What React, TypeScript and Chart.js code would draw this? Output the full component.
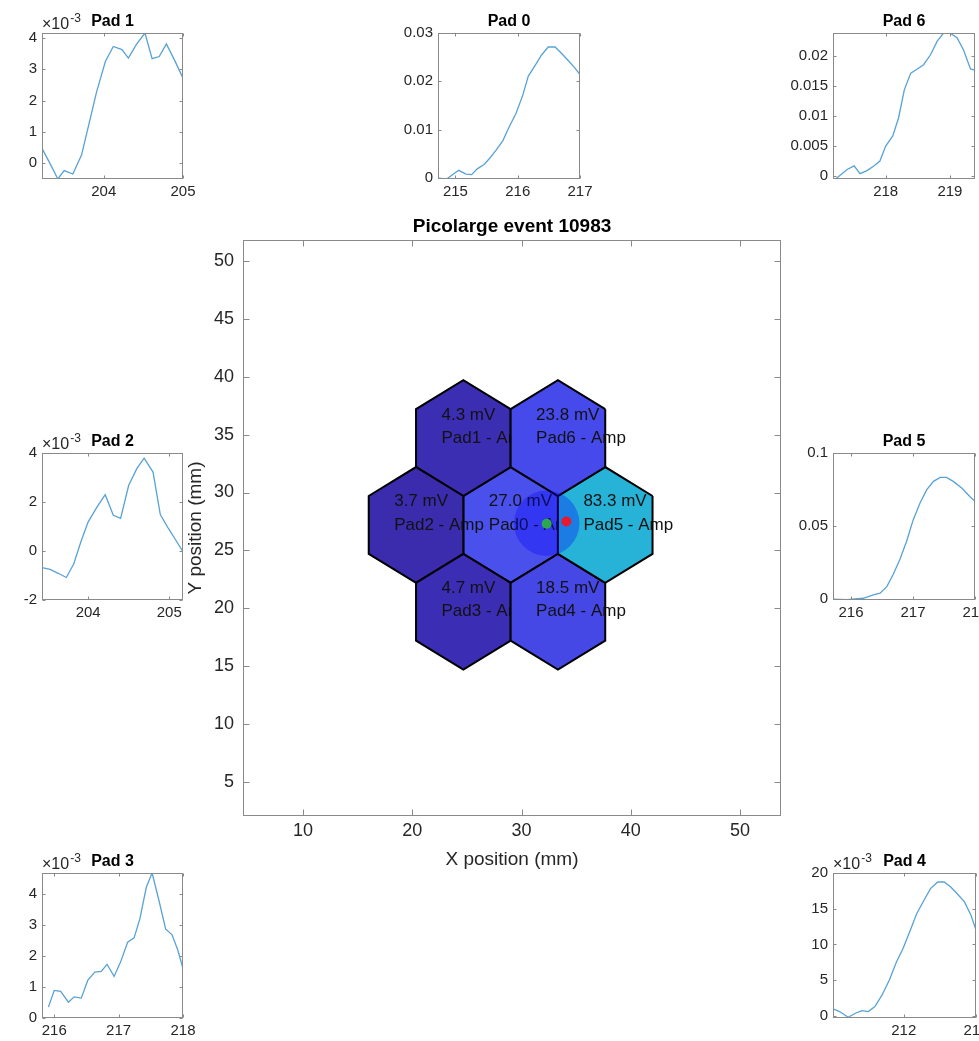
import React, { useEffect, useRef } from "react";
import { Chart, registerables } from "chart.js";

Chart.register(...registerables);

const FONT = '"Liberation Sans", Arial, Helvetica, sans-serif';
const AXIS_COLOR = "#8a8a8a";
const TEXT_COLOR = "#262626";
const TRACE_COLOR = "#58a2d6";

// ---------------- Main map ----------------
const mainTitle = "Picolarge event 10983";
const mainXLabel = "X position (mm)";
const mainYLabel = "Y position (mm)";
const mainXTicks = [10, 20, 30, 40, 50];
const mainYTicks = [5, 10, 15, 20, 25, 30, 35, 40, 45, 50];
const mainXRange = [4.5, 53.75];
const mainYRange = [2.06, 51.81];

const padNames = ["Pad0", "Pad1", "Pad2", "Pad3", "Pad4", "Pad5", "Pad6"];
const padCenterX = [29.0, 24.67, 20.34, 24.67, 33.33, 37.66, 33.33];
const padCenterY = [27.2, 34.7, 27.2, 19.7, 19.7, 27.2, 34.7];
const padAmplitudeMv = [27.0, 4.3, 3.7, 4.7, 18.5, 83.3, 23.8];
const padFillColors = ["#4a50ec", "#3c2eb2", "#3a2cad", "#3c2eb4", "#4648e6", "#27b2d8", "#474aea"];
const HEX_SIDE = 5;

const circleCenter = [32.3, 27.35];
const circleRadiusMm = 3.0;
const greenPoint = [32.3, 27.3];
const redPoint = [34.1, 27.5];

// ---------------- Pad traces ----------------
const pad1Time = [203.22, 203.32, 203.42, 203.5, 203.61, 203.72, 203.81, 203.91, 204.02, 204.12, 204.23, 204.31, 204.41, 204.52, 204.61, 204.7, 204.79, 204.89, 205.0];
const pad1Amp = [0.48, 0.0, -0.5, -0.23, -0.34, 0.27, 1.23, 2.29, 3.25, 3.73, 3.63, 3.36, 3.79, 4.16, 3.34, 3.41, 3.81, 3.31, 2.72];

const pad0Time = [214.72, 214.86, 215.05, 215.17, 215.26, 215.35, 215.46, 215.55, 215.65, 215.76, 215.86, 215.97, 216.08, 216.17, 216.28, 216.38, 216.49, 216.6, 216.71, 216.81, 216.91, 217.0];
const pad0Amp = [0.0, -0.0002, 0.0016, 0.0008, 0.0007, 0.0019, 0.0028, 0.0041, 0.0057, 0.0077, 0.0105, 0.0133, 0.0171, 0.0211, 0.0233, 0.0254, 0.0271, 0.0271, 0.0257, 0.0243, 0.0229, 0.0214];

const pad6Time = [217.22, 217.4, 217.51, 217.6, 217.71, 217.82, 217.91, 218.0, 218.11, 218.2, 218.29, 218.39, 218.48, 218.59, 218.7, 218.8, 218.9, 219.0, 219.11, 219.21, 219.32, 219.39];
const pad6Amp = [-0.0005, 0.0011, 0.0017, 0.0004, 0.0009, 0.0017, 0.0025, 0.005, 0.0067, 0.0097, 0.0144, 0.0172, 0.0178, 0.0186, 0.0203, 0.0225, 0.0239, 0.0239, 0.0231, 0.0211, 0.0179, 0.0177];

const pad2Time = [203.43, 203.53, 203.63, 203.73, 203.82, 203.91, 204.0, 204.11, 204.21, 204.31, 204.4, 204.5, 204.6, 204.69, 204.8, 204.89, 204.99, 205.08, 205.17];
const pad2Amp = [-0.68, -0.75, -0.91, -1.08, -0.54, 0.38, 1.19, 1.8, 2.3, 1.46, 1.33, 2.68, 3.36, 3.79, 3.22, 1.49, 0.92, 0.45, -0.03];

const pad5Time = [215.71, 215.93, 216.2, 216.36, 216.47, 216.58, 216.68, 216.79, 216.9, 217.0, 217.11, 217.22, 217.33, 217.44, 217.54, 217.65, 217.79, 217.92, 218.0];
const pad5Amp = [0.0, -0.0003, 0.0007, 0.003, 0.0042, 0.0088, 0.0169, 0.0273, 0.04, 0.0539, 0.0655, 0.0748, 0.0806, 0.0833, 0.0833, 0.0806, 0.0759, 0.0701, 0.067];

const pad3Time = [215.91, 216.0, 216.1, 216.22, 216.31, 216.42, 216.52, 216.63, 216.73, 216.82, 216.93, 217.03, 217.14, 217.24, 217.33, 217.43, 217.52, 217.62, 217.73, 217.83, 217.92, 218.0];
const pad3Amp = [0.35, 0.89, 0.86, 0.51, 0.68, 0.64, 1.21, 1.48, 1.5, 1.73, 1.34, 1.8, 2.44, 2.58, 3.19, 4.21, 4.67, 3.84, 2.87, 2.68, 2.18, 1.59];

const pad4Time = [211.02, 211.11, 211.23, 211.33, 211.42, 211.51, 211.6, 211.7, 211.8, 211.9, 211.99, 212.09, 212.18, 212.28, 212.37, 212.47, 212.56, 212.65, 212.74, 212.84, 212.93, 213.0];
const pad4Amp = [0.98, 0.6, -0.19, 0.37, 0.74, 0.6, 1.3, 2.93, 5.02, 7.58, 9.44, 12.0, 14.33, 16.19, 17.81, 18.74, 18.74, 18.05, 17.1, 15.95, 14.1, 12.0];

type Box = { l: number; t: number; r: number; b: number };
type Margin = { l: number; t: number; r: number; b: number };

type SubCfg = {
  title: string;
  box: Box;
  time: number[];
  amp: number[];
  xRange: number[];
  yRange: number[];
  xTicks: number[];
  yTicks: number[];
  yTickLabels: string[];
  exponent?: string;
};

const subplots: SubCfg[] = [
  { title: "Pad 1", box: { l: 42, t: 33, r: 183, b: 179 }, time: pad1Time, amp: pad1Amp, xRange: [203.22, 205.0], yRange: [-0.5, 4.16], xTicks: [204, 205], yTicks: [0, 1, 2, 3, 4], yTickLabels: ["0", "1", "2", "3", "4"], exponent: "-3" },
  { title: "Pad 0", box: { l: 438, t: 33, r: 580, b: 179 }, time: pad0Time, amp: pad0Amp, xRange: [214.72, 217.0], yRange: [-0.0002, 0.03], xTicks: [215, 216, 217], yTicks: [0, 0.01, 0.02, 0.03], yTickLabels: ["0", "0.01", "0.02", "0.03"] },
  { title: "Pad 6", box: { l: 833, t: 33, r: 975, b: 179 }, time: pad6Time, amp: pad6Amp, xRange: [217.18, 219.39], yRange: [-0.0005, 0.0239], xTicks: [218, 219], yTicks: [0, 0.005, 0.01, 0.015, 0.02], yTickLabels: ["0", "0.005", "0.01", "0.015", "0.02"] },
  { title: "Pad 2", box: { l: 42, t: 453, r: 183, b: 600 }, time: pad2Time, amp: pad2Amp, xRange: [203.43, 205.17], yRange: [-2, 4], xTicks: [204, 205], yTicks: [-2, 0, 2, 4], yTickLabels: ["-2", "0", "2", "4"], exponent: "-3" },
  { title: "Pad 5", box: { l: 833, t: 453, r: 975, b: 600 }, time: pad5Time, amp: pad5Amp, xRange: [215.71, 218.0], yRange: [-0.0005, 0.1], xTicks: [216, 217, 218], yTicks: [0, 0.05, 0.1], yTickLabels: ["0", "0.05", "0.1"] },
  { title: "Pad 3", box: { l: 42, t: 873, r: 183, b: 1018 }, time: pad3Time, amp: pad3Amp, xRange: [215.81, 218.0], yRange: [0, 4.67], xTicks: [216, 217, 218], yTicks: [0, 1, 2, 3, 4], yTickLabels: ["0", "1", "2", "3", "4"], exponent: "-3" },
  { title: "Pad 4", box: { l: 833, t: 873, r: 976, b: 1018 }, time: pad4Time, amp: pad4Amp, xRange: [211.02, 213.0], yRange: [-0.3, 20], xTicks: [212, 213], yTicks: [0, 5, 10, 15, 20], yTickLabels: ["0", "5", "10", "15", "20"], exponent: "-3" },
];

const MAIN_BOX: Box = { l: 243, t: 240, r: 781, b: 816 };

type FrameOpts = {
  xTicks: number[];
  xTickLabels: string[];
  yTicks: number[];
  yTickLabels: string[];
  tickLen: number;
  tickSize: number;
  xLabelGap: number;
  yLabelGap: number;
  title: string;
  titleSize: number;
  titleGap: number;
  exponent?: string;
  xLabel?: string;
  yLabel?: string;
  labelSize?: number;
};

function drawFrame(chart: any, o: FrameOpts) {
  const { ctx, chartArea: a } = chart;
  const xs = chart.scales.x;
  const ys = chart.scales.y;
  ctx.save();
  ctx.strokeStyle = AXIS_COLOR;
  ctx.lineWidth = 1;
  const L = Math.round(a.left) + 0.5;
  const R = Math.round(a.right) - 0.5;
  const T = Math.round(a.top) + 0.5;
  const B = Math.round(a.bottom) - 0.5;
  ctx.strokeRect(L, T, R - L, B - T);
  ctx.beginPath();
  for (const v of o.xTicks) {
    const p = Math.round(xs.getPixelForValue(v)) + 0.5;
    if (p < L - 1 || p > R + 1) continue;
    ctx.moveTo(p, B);
    ctx.lineTo(p, B - o.tickLen);
    ctx.moveTo(p, T);
    ctx.lineTo(p, T + o.tickLen);
  }
  for (const v of o.yTicks) {
    const p = Math.round(ys.getPixelForValue(v)) + 0.5;
    if (p < T - 1 || p > B + 1) continue;
    ctx.moveTo(L, p);
    ctx.lineTo(L + o.tickLen, p);
    ctx.moveTo(R, p);
    ctx.lineTo(R - o.tickLen, p);
  }
  ctx.stroke();

  ctx.fillStyle = TEXT_COLOR;
  ctx.font = `${o.tickSize}px ${FONT}`;
  ctx.textAlign = "center";
  ctx.textBaseline = "top";
  o.xTicks.forEach((v, i) => ctx.fillText(o.xTickLabels[i], xs.getPixelForValue(v), a.bottom + o.xLabelGap));
  ctx.textAlign = "right";
  ctx.textBaseline = "middle";
  o.yTicks.forEach((v, i) => ctx.fillText(o.yTickLabels[i], a.left - o.yLabelGap, ys.getPixelForValue(v)));

  ctx.fillStyle = "#000";
  ctx.font = `bold ${o.titleSize}px ${FONT}`;
  ctx.textAlign = "center";
  ctx.textBaseline = "middle";
  ctx.fillText(o.title, (a.left + a.right) / 2, a.top - o.titleGap);

  if (o.exponent) {
    ctx.fillStyle = TEXT_COLOR;
    ctx.font = `16px ${FONT}`;
    ctx.textAlign = "left";
    ctx.textBaseline = "alphabetic";
    const base = a.top - 4;
    ctx.fillText("\u00d710", a.left, base);
    const w = ctx.measureText("\u00d710").width;
    ctx.font = `12px ${FONT}`;
    ctx.fillText(o.exponent, a.left + w + 1, base - 7);
  }

  if (o.xLabel) {
    ctx.fillStyle = TEXT_COLOR;
    ctx.font = `${o.labelSize}px ${FONT}`;
    ctx.textAlign = "center";
    ctx.textBaseline = "middle";
    ctx.fillText(o.xLabel, (a.left + a.right) / 2, a.bottom + 44);
  }
  if (o.yLabel) {
    ctx.save();
    ctx.fillStyle = TEXT_COLOR;
    ctx.font = `${o.labelSize}px ${FONT}`;
    ctx.translate(a.left - 47, (a.top + a.bottom) / 2);
    ctx.rotate(-Math.PI / 2);
    ctx.textAlign = "center";
    ctx.textBaseline = "middle";
    ctx.fillText(o.yLabel, 0, 0);
    ctx.restore();
  }
  ctx.restore();
}

function hexVertices(cx: number, cy: number, r: number) {
  const pts: { x: number; y: number }[] = [];
  for (let i = 0; i <= 6; i++) {
    const ang = ((30 + 60 * (i % 6)) * Math.PI) / 180;
    pts.push({ x: cx + r * Math.cos(ang), y: cy + r * Math.sin(ang) });
  }
  return pts;
}

const LABEL_DX = -2.0;
const LABEL_DY1 = 2.0;
const LABEL_DY2 = 0.0;

function buildMain(): any {
  const hexDatasets = padNames.map((name, k) => ({
    label: name,
    data: hexVertices(padCenterX[k], padCenterY[k], HEX_SIDE),
    showLine: true,
    fill: "shape",
    backgroundColor: padFillColors[k],
    borderColor: "#000",
    borderWidth: 2,
    pointRadius: 0,
    tension: 0,
    order: 100 - k,
    padIndex: k,
    clip: false,
  }));
  const circle = {
    label: "circle",
    data: [{ x: circleCenter[0], y: circleCenter[1] }],
    showLine: false,
    pointRadius: (c: any) => {
      const xs = c.chart.scales.x;
      return Math.abs(xs.getPixelForValue(circleCenter[0] + circleRadiusMm) - xs.getPixelForValue(circleCenter[0]));
    },
    pointBackgroundColor: "rgba(0,0,255,0.3)",
    pointBorderWidth: 0,
    pointBorderColor: "rgba(0,0,0,0)",
    order: 3,
  };
  const green = {
    label: "green",
    data: [{ x: greenPoint[0], y: greenPoint[1] }],
    showLine: false,
    pointRadius: 5,
    pointBackgroundColor: "#2ea84e",
    pointBorderColor: "#2ea84e",
    pointBorderWidth: 0,
    order: 2,
  };
  const red = {
    label: "red",
    data: [{ x: redPoint[0], y: redPoint[1] }],
    showLine: false,
    pointRadius: 5,
    pointBackgroundColor: "#e8192c",
    pointBorderColor: "#e8192c",
    pointBorderWidth: 0,
    order: 1,
  };
  const textPlugin = {
    id: "hexText",
    afterDatasetDraw(chart: any, args: any) {
      const ds = chart.data.datasets[args.index];
      if (ds.padIndex === undefined) return;
      const k = ds.padIndex;
      const { ctx } = chart;
      const xs = chart.scales.x;
      const ys = chart.scales.y;
      ctx.save();
      ctx.font = `17px ${FONT}`;
      ctx.fillStyle = "#111";
      ctx.textAlign = "left";
      ctx.textBaseline = "middle";
      const px = xs.getPixelForValue(padCenterX[k] + LABEL_DX);
      ctx.fillText(`${padAmplitudeMv[k].toFixed(1)} mV`, px, ys.getPixelForValue(padCenterY[k] + LABEL_DY1));
      ctx.fillText(`${padNames[k]} - Amp`, px, ys.getPixelForValue(padCenterY[k] + LABEL_DY2));
      ctx.restore();
    },
  };
  const framePlugin = {
    id: "frame",
    afterDraw(chart: any) {
      drawFrame(chart, {
        xTicks: mainXTicks,
        xTickLabels: mainXTicks.map(String),
        yTicks: mainYTicks,
        yTickLabels: mainYTicks.map(String),
        tickLen: 6,
        tickSize: 18,
        xLabelGap: 6,
        yLabelGap: 9,
        title: mainTitle,
        titleSize: 19,
        titleGap: 13,
        xLabel: mainXLabel,
        yLabel: mainYLabel,
        labelSize: 19,
      });
    },
  };
  return {
    type: "line",
    data: { datasets: [...hexDatasets, circle, green, red] },
    options: {
      animation: false,
      responsive: false,
      events: [],
      plugins: { legend: { display: false }, tooltip: { enabled: false } },
      scales: {
        x: { type: "linear", min: mainXRange[0], max: mainXRange[1], display: false },
        y: { type: "linear", min: mainYRange[0], max: mainYRange[1], display: false },
      },
    },
    plugins: [textPlugin, framePlugin],
  };
}

function buildSub(s: SubCfg): any {
  const framePlugin = {
    id: "frame",
    afterDraw(chart: any) {
      drawFrame(chart, {
        xTicks: s.xTicks,
        xTickLabels: s.xTicks.map(String),
        yTicks: s.yTicks,
        yTickLabels: s.yTickLabels,
        tickLen: 3,
        tickSize: 15,
        xLabelGap: 5,
        yLabelGap: 5,
        title: s.title,
        titleSize: 16,
        titleGap: 11,
        exponent: s.exponent,
      });
    },
  };
  return {
    type: "line",
    data: {
      datasets: [
        {
          label: s.title,
          data: s.time.map((t, i) => ({ x: t, y: s.amp[i] })),
          borderColor: TRACE_COLOR,
          borderWidth: 1.3,
          pointRadius: 0,
          tension: 0,
          fill: false,
        },
      ],
    },
    options: {
      animation: false,
      responsive: false,
      events: [],
      plugins: { legend: { display: false }, tooltip: { enabled: false } },
      scales: {
        x: { type: "linear", min: s.xRange[0], max: s.xRange[1], display: false },
        y: { type: "linear", min: s.yRange[0], max: s.yRange[1], display: false },
      },
    },
    plugins: [framePlugin],
  };
}

function ChartCanvas({ box, margin, build }: { box: Box; margin: Margin; build: () => any }) {
  const ref = useRef<HTMLCanvasElement | null>(null);
  const w = box.r - box.l + margin.l + margin.r;
  const h = box.b - box.t + margin.t + margin.b;
  useEffect(() => {
    const cfg = build();
    cfg.options.layout = { padding: { left: margin.l, top: margin.t, right: margin.r, bottom: margin.b } };
    cfg.options.devicePixelRatio = 1;
    const chart = new Chart(ref.current as HTMLCanvasElement, cfg);
    return () => chart.destroy();
  }, []);
  return (
    <canvas
      ref={ref}
      width={w}
      height={h}
      style={{ position: "absolute", left: box.l - margin.l, top: box.t - margin.t, width: w, height: h }}
    />
  );
}

export default function App() {
  const subMargin: Margin = { l: 50, t: 40, r: 12, b: 32 };
  const mainMargin: Margin = { l: 73, t: 40, r: 29, b: 84 };
  return (
    <div
      style={{
        position: "absolute",
        left: 0,
        top: 0,
        width: 979,
        height: 1041,
        overflow: "hidden",
        background: "#fff",
      }}
    >
      <ChartCanvas box={MAIN_BOX} margin={mainMargin} build={buildMain} />
      {subplots.map((s) => (
        <ChartCanvas key={s.title} box={s.box} margin={subMargin} build={() => buildSub(s)} />
      ))}
    </div>
  );
}
